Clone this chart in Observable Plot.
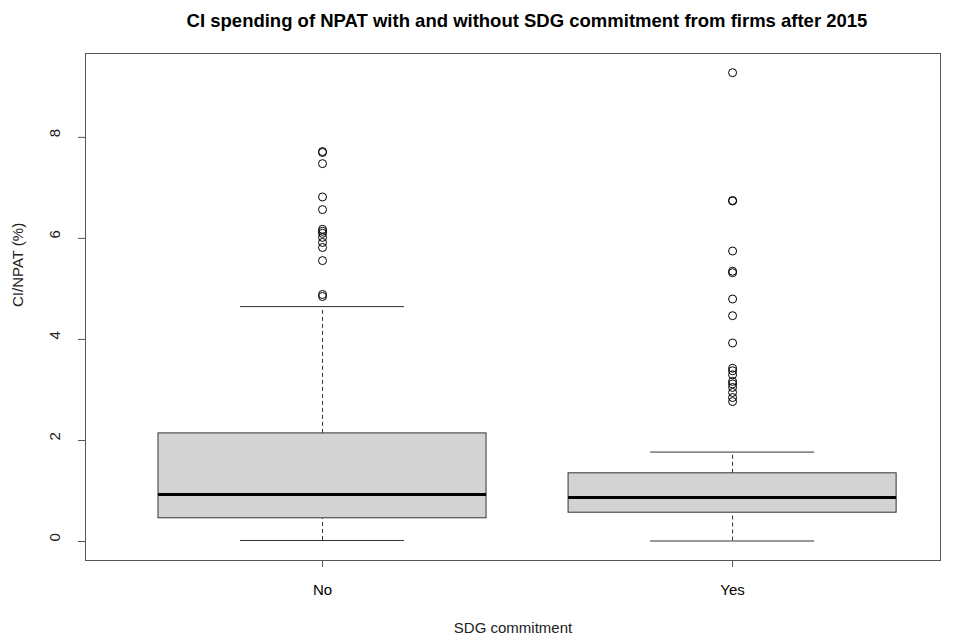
<!DOCTYPE html>
<html><head><meta charset="utf-8">
<script src="https://cdn.jsdelivr.net/npm/d3@7"></script>
<script src="https://cdn.jsdelivr.net/npm/@observablehq/plot@0.6"></script>
<style>
body{margin:0;background:#fff;font-family:"Liberation Sans",Arial,sans-serif}
</style></head><body><div id="chart"></div>
<script>
const titleText = "CI spending of NPAT with and without SDG commitment from firms after 2015";
const xLabel = "SDG commitment";
const yLabel = "CI/NPAT (%)";
const groups = ["No", "Yes"];
const q1 = [0.46, 0.57];
const median = [0.93, 0.87];
const q3 = [2.14, 1.35];
const whiskerLow = [0.02, 0.01];
const whiskerHigh = [4.65, 1.77];
const outliersNo = [7.72, 7.70, 7.48, 6.82, 6.57, 6.18, 6.14, 6.10, 6.02, 5.92, 5.82, 5.56, 4.89, 4.85];
const outliersYes = [9.28, 6.75, 6.74, 5.75, 5.35, 5.32, 4.80, 4.47, 3.93, 3.43, 3.38, 3.30, 3.17, 3.12, 3.05, 2.95, 2.85, 2.77];
const yTicks = [0, 2, 4, 6, 8];

const boxes = groups.map((g, i) => ({
  group: g, pos: i + 1, q1: q1[i], median: median[i], q3: q3[i],
  lo: whiskerLow[i], hi: whiskerHigh[i]
}));
const outliers = [
  ...outliersNo.map(v => ({pos: 1, value: v})),
  ...outliersYes.map(v => ({pos: 2, value: v}))
];
const halfBox = 0.4, halfCap = 0.2;

const chart = Plot.plot({
  width: 957,
  height: 637,
  marginTop: 53,
  marginBottom: 77,
  marginLeft: 85,
  marginRight: 17,
  style: {fontFamily: "'Liberation Sans', Arial, sans-serif", fontSize: "15px", color: "#000", background: "#fff"},
  x: {domain: [0.422, 2.507], axis: null},
  y: {domain: [-0.376, 9.66], axis: null},
  marks: [
    Plot.ruleX(boxes, {x: "pos", y1: "q3", y2: "hi", stroke: "#333", strokeDasharray: "4,3"}),
    Plot.ruleX(boxes, {x: "pos", y1: "lo", y2: "q1", stroke: "#333", strokeDasharray: "4,3"}),
    Plot.ruleY(boxes, {y: "hi", x1: d => d.pos - halfCap, x2: d => d.pos + halfCap, stroke: "#333"}),
    Plot.ruleY(boxes, {y: "lo", x1: d => d.pos - halfCap, x2: d => d.pos + halfCap, stroke: "#333"}),
    Plot.rect(boxes, {x1: d => d.pos - halfBox, x2: d => d.pos + halfBox, y1: "q1", y2: "q3", fill: "#d3d3d3", stroke: "#333"}),
    Plot.ruleY(boxes, {y: "median", x1: d => d.pos - halfBox, x2: d => d.pos + halfBox, stroke: "#000", strokeWidth: 3}),
    Plot.dot(outliers, {x: "pos", y: "value", r: 4, stroke: "#000", fill: "none", strokeWidth: 1}),
    Plot.frame({stroke: "#555"}),
    Plot.axisY({ticks: yTicks, tickSize: 7, tickFormat: () => "", stroke: "#555", label: null}),
    Plot.text(yTicks, {y: d => d, text: d => String(d), frameAnchor: "left", dx: -30, rotate: -90, fontSize: 15, fill: "#222"}),
    Plot.axisX({ticks: [1, 2], tickSize: 7, tickPadding: 17, tickFormat: d => groups[d - 1], fontSize: 15, stroke: "#555", label: null}),
    Plot.text([xLabel], {text: d => d, frameAnchor: "bottom", dy: 72, fontSize: 15, fill: "#222"}),
    Plot.text([yLabel], {text: d => d, frameAnchor: "left", dx: -67, rotate: -90, fontSize: 15, fill: "#222"}),
    Plot.text([titleText], {text: d => d, frameAnchor: "top", dy: -40, dx: 14, fontSize: 18.5, fontWeight: "bold", fill: "#000"})
  ]
});
document.getElementById("chart").appendChild(chart);
</script></body></html>
